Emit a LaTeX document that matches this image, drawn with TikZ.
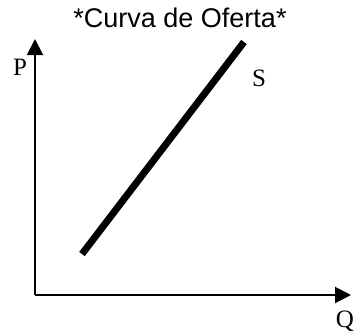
\documentclass[tikz,border=0pt]{standalone}
\usepackage{fontspec}
\setmainfont{Liberation Serif}
\newfontfamily\titlefont{Liberation Sans}
\usetikzlibrary{arrows.meta}
\begin{document}
\begin{tikzpicture}[x=1pt,y=-1pt,
  axis/.style={line width=2pt,-{Triangle[length=16pt,width=16pt]}},
  curve/.style={line width=7pt},
  lbl/.style={inner sep=0pt,anchor=base,font=\fontsize{25}{25}\selectfont},
  ttl/.style={inner sep=0pt,anchor=base,font=\titlefont\fontsize{27}{27}\selectfont}]
\useasboundingbox (0,0) rectangle (355,335);
\coordinate (O) at (35,295);
\coordinate (ytip) at (35,39);
\coordinate (xtip) at (351,295);
\coordinate (s1) at (82,254);
\coordinate (s2) at (244,42);
\node[ttl] (title) at (180,27.5) {*Curva de Oferta*};
\node[lbl] (P) at (20,75) {P};
\node[lbl] (S) at (259,86) {S};
\node[lbl] (Q) at (345,327) {Q};
\draw[axis] (O) -- (ytip);
\draw[axis] (O) -- (xtip);
\draw[curve] (s1) -- (s2);
\end{tikzpicture}
\end{document}
